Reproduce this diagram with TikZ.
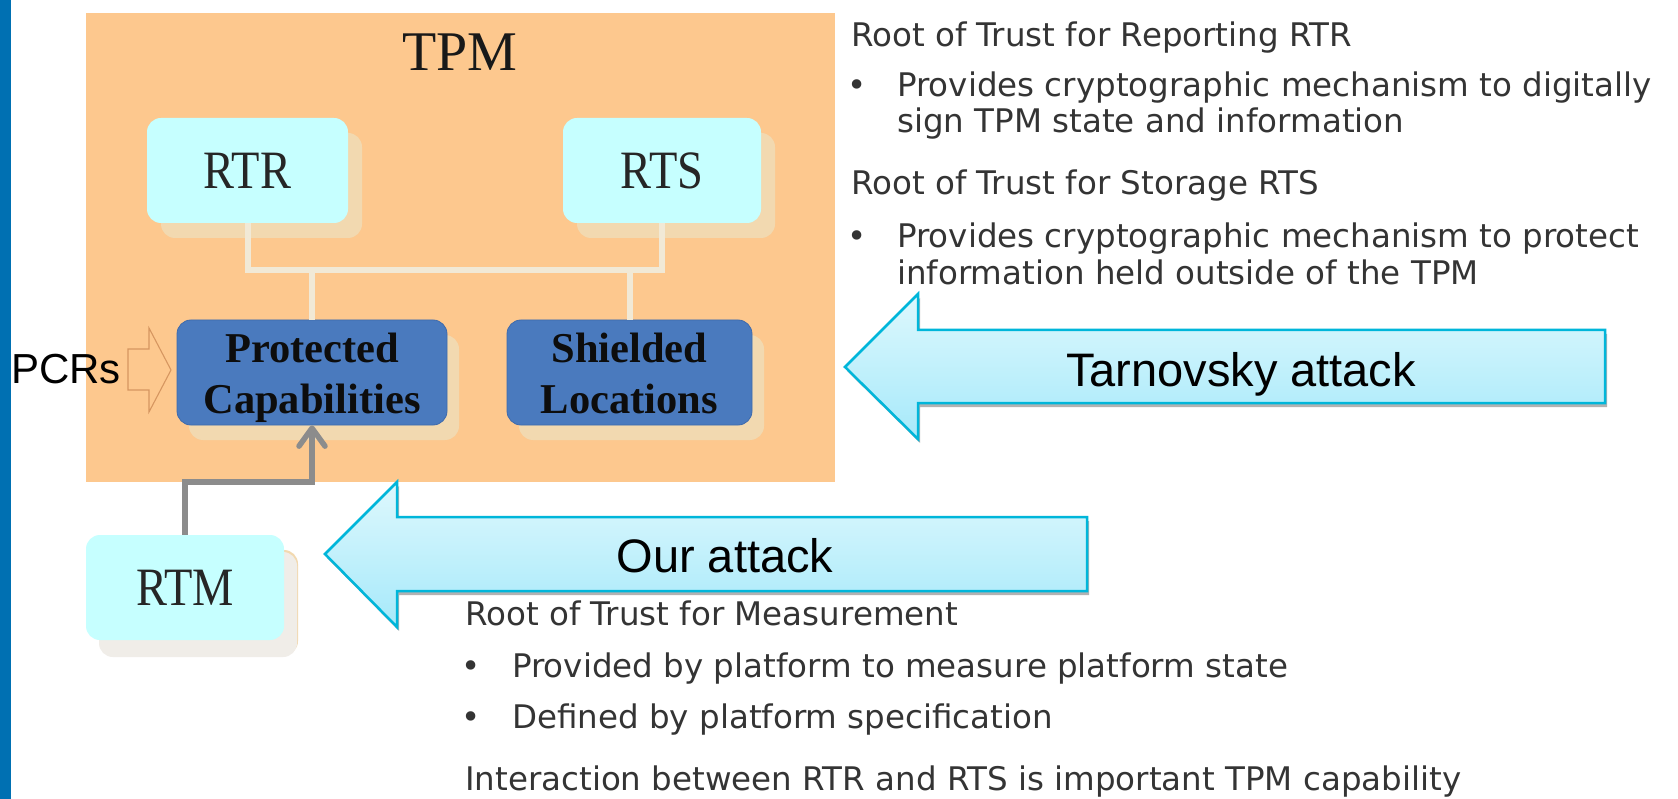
\documentclass[tikz,border=0pt]{standalone}
\usepackage{fontspec}
\setmainfont{Liberation Serif}
\newfontfamily\boxserif[FakeStretch=0.86]{Liberation Serif}
\newfontfamily\arialf{Liberation Sans}
\newfontfamily\dejaf{DejaVu Sans}
\usetikzlibrary{shadows,arrows.meta,calc}

\definecolor{sidebar}{RGB}{0,112,178}
\definecolor{tpmorange}{RGB}{253,200,142}
\definecolor{rootcyan}{RGB}{198,255,255}
\definecolor{capblue}{RGB}{74,122,190}
\definecolor{capborder}{RGB}{62,106,172}
\definecolor{shadowbeige}{RGB}{242,217,176}
\definecolor{shadowgrey}{RGB}{240,237,232}
\definecolor{linkcream}{RGB}{241,233,214}
\definecolor{measuregrey}{RGB}{140,140,140}
\definecolor{attackedge}{RGB}{0,182,218}
\definecolor{attacktop}{RGB}{222,248,253}
\definecolor{attackbottom}{RGB}{166,233,250}
\definecolor{pcrsedge}{RGB}{214,150,96}
\definecolor{bodytext}{RGB}{52,52,52}

% struts giving both two-line labels the same height and depth
\newcommand{\caplift}{\rule{0pt}{40pt}}
\newcommand{\capdrop}{\rule[-10pt]{0pt}{10pt}}

\tikzset{
  rootbox/.style={rounded corners=14pt, fill=rootcyan, inner sep=0pt,
    text=black!85, font=\boxserif\fontsize{54}{54}\selectfont,
    drop shadow={shadow xshift=14pt, shadow yshift=-15pt, opacity=1, fill=shadowbeige}},
  capbox/.style={rounded corners=14pt, fill=capblue, draw=capborder, line width=0.8pt,
    inner sep=0pt, align=center, text=black!95,
    font=\bfseries\fontsize{42.5}{51}\selectfont,
    minimum height=105pt,
    drop shadow={shadow xshift=12pt, shadow yshift=-15pt, opacity=1, fill=shadowbeige}},
  link/.style={draw=linkcream, line width=6pt},
  measure/.style={draw=measuregrey, line width=5.5pt,
    -{Straight Barb[length=18pt,width=26pt,round]}},
  attackarrow/.style={draw=attackedge, line width=2.5pt, line join=miter,
    top color=attacktop, bottom color=attackbottom,
    drop shadow={shadow xshift=2pt, shadow yshift=-4pt, opacity=0.3, fill=black}},
  attacklabel/.style={anchor=base, inner sep=0pt, text=black,
    font=\arialf\fontsize{47}{47}\selectfont},
  bodyline/.style={anchor=base west, inner sep=0pt, text=bodytext,
    font=\dejaf\fontsize{32.5}{32.5}\selectfont},
  bulletmark/.style={anchor=base, inner sep=0pt, text=bodytext,
    font=\dejaf\fontsize{32.5}{32.5}\selectfont},
}

\begin{document}
\begin{tikzpicture}[x=1pt,y=-1pt]
\useasboundingbox (0,0) rectangle (1678,799);
\fill[white] (0,0) rectangle (1678,799);

% side bar and TPM area
\fill[sidebar] (0,0) rectangle (11,799);
\fill[tpmorange] (86,13) rectangle (835,482);
\node[anchor=base, inner sep=0pt, text=black!90, font=\fontsize{56}{56}\selectfont]
  (tpm) at (460,71) {TPM};

% roots of trust inside the TPM
\node[rootbox, minimum width=201pt, minimum height=105pt] (rtr) at (247.5,170.5) {RTR};
\node[rootbox, minimum width=198pt, minimum height=105pt] (rts) at (662,170.5) {RTS};

\node[capbox, minimum width=270pt] (prot) at (312,372.5) {\caplift Protected\\Capabilities\capdrop};
\node[capbox, minimum width=245pt] (shield) at (629.5,372.5) {\caplift Shielded\\Locations\capdrop};

% internal links
\coordinate (busL) at (rtr.south |- 0,270);
\coordinate (busR) at (rts.south |- 0,270);
\draw[link] (rtr.south) -- (busL) -- (busR) -- (rts.south);
\draw[link] (prot.north |- busL) -- (prot.north);
\draw[link] (shield.north |- busL) -- (shield.north);

% PCRs input
\node[anchor=base west, inner sep=0pt, text=black, font=\arialf\fontsize{42}{42}\selectfont]
  (pcrs) at (11,383) {PCRs};
\draw[pcrsedge, line width=1.1pt, line join=miter]
  (128,349) -- (149,349) -- (149,328) -- (171,370) -- (149,412) -- (149,390) -- (128,390) -- cycle;

% root of trust for measurement
\node[rootbox, minimum width=198pt, minimum height=105pt,
  drop shadow={shadow xshift=13pt, shadow yshift=-17pt, opacity=1, fill=shadowgrey}]
  (rtm) at (185,587.5) {RTM};
\draw[measure] (rtm.north) -- ++(0,-53) -| (prot.south);

% attack arrows
\path[attackarrow] (845,367) -- (918,294) -- (918,330) -- (1605,330) -- (1605,403)
  -- (918,403) -- (918,439) -- cycle;
\node[attacklabel] (tarnovsky) at (1241,386) {Tarnovsky attack};

\path[attackarrow] (325,554) -- (397,482) -- (397,517) -- (1087,517) -- (1087,591)
  -- (397,591) -- (397,627) -- cycle;
\node[attacklabel] (ours) at (725,572) {Our attack};

% descriptions
\node[bodyline] (rtrhead) at (851,46.7) {Root of Trust for Reporting RTR};
\node[bulletmark] (rtrdot) at (857,96.7) {•};
\node[bodyline] (rtrtxta) at (897,96.7) {Provides cryptographic mechanism to digitally};
\node[bodyline] (rtrtxtb) at (897,132.7) {sign TPM state and information};

\node[bodyline] (rtshead) at (851,195) {Root of Trust for Storage RTS};
\node[bulletmark] (rtsdot) at (857,248) {•};
\node[bodyline] (rtstxta) at (897,248) {Provides cryptographic mechanism to protect};
\node[bodyline] (rtstxtb) at (897,285) {information held outside of the TPM};

\node[bodyline] (rtmhead) at (465,625) {Root of Trust for Measurement};
\node[bulletmark] (rtmdota) at (471,677) {•};
\node[bodyline] (rtmtxta) at (512,677) {Provided by platform to measure platform state};
\node[bulletmark] (rtmdotb) at (471,728) {•};
\node[bodyline] (rtmtxtb) at (512,728) {Defined by platform specification};

\node[bodyline] (interact) at (465,790) {Interaction between RTR and RTS is important TPM capability};
\end{tikzpicture}
\end{document}
